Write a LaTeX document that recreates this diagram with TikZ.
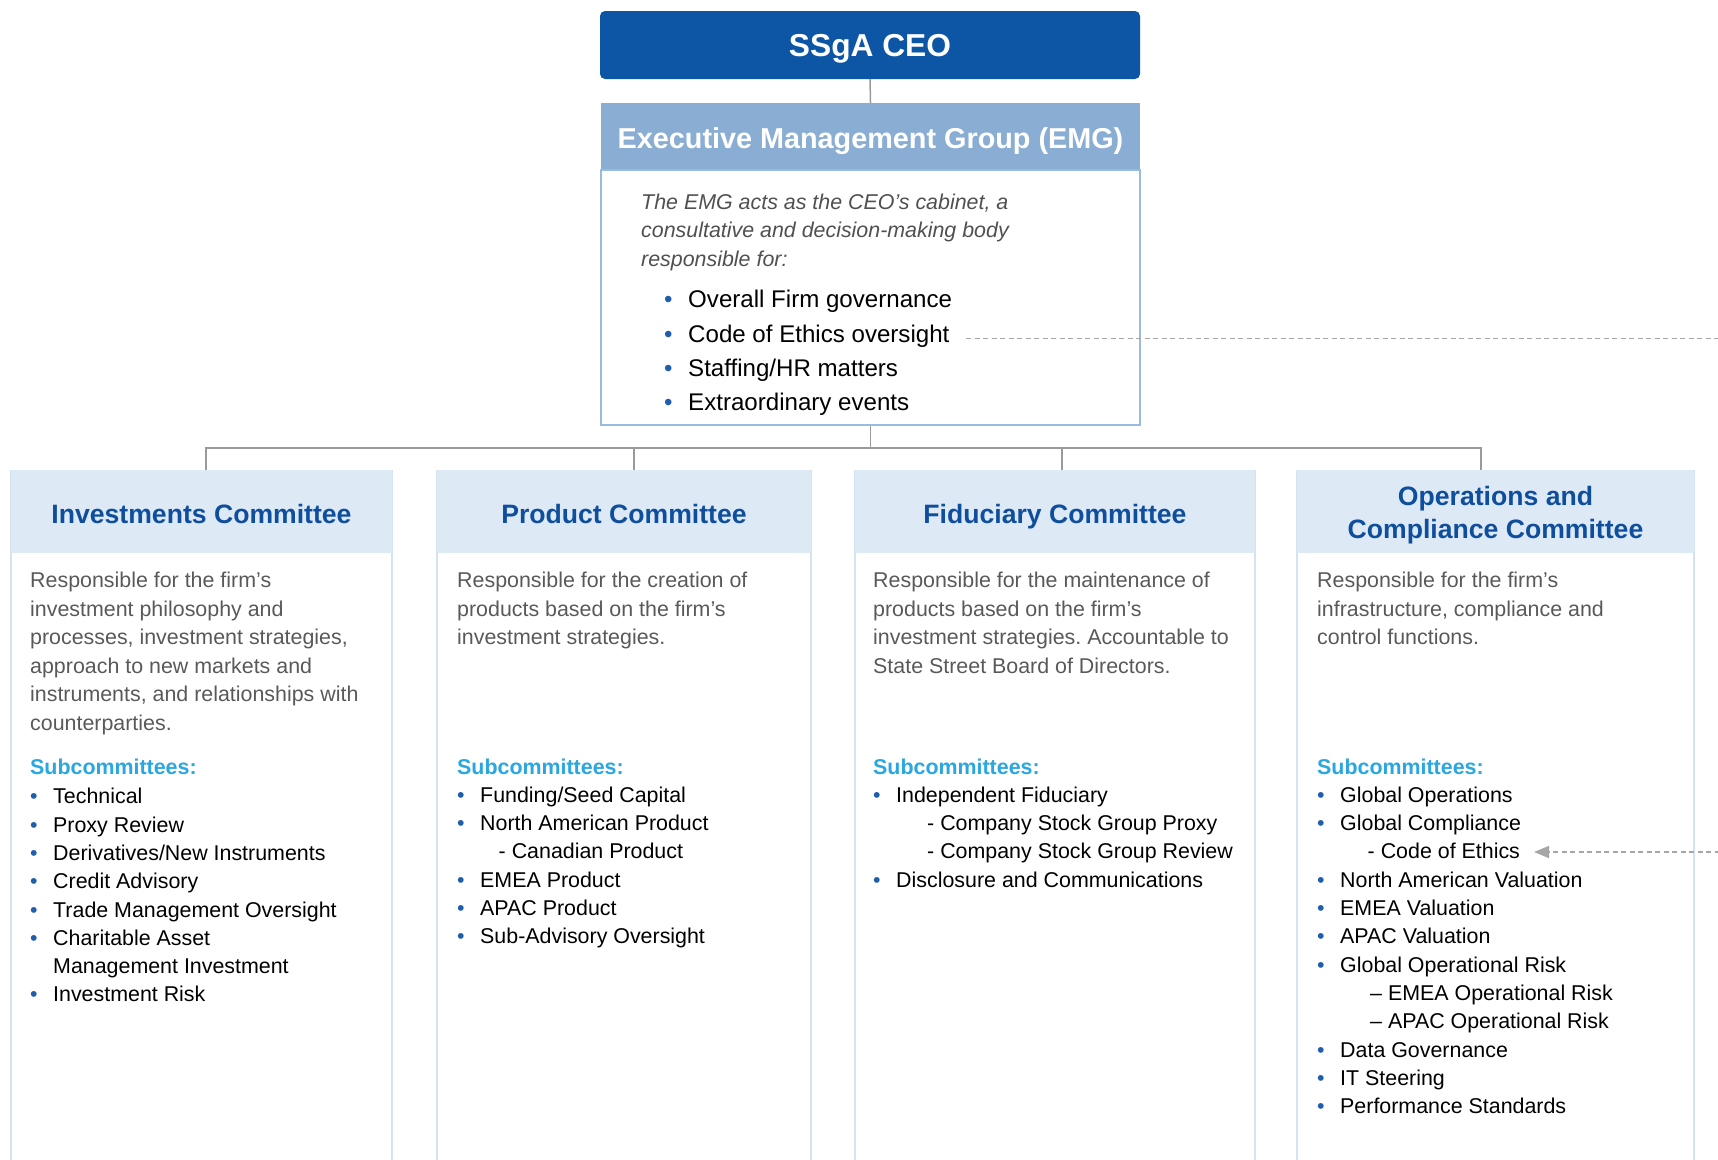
\documentclass[tikz,border=0pt]{standalone}
\usepackage{fontspec}
\setmainfont{Liberation Sans}
\usepackage{xcolor}
\usetikzlibrary{arrows.meta, positioning}
\frenchspacing
\definecolor{ceoblue}{HTML}{0D56A5}
\definecolor{emgblue}{HTML}{8AADD3}
\definecolor{emgline}{HTML}{9ABBE0}
\definecolor{hdfill}{HTML}{DDEAF6}
\definecolor{colline}{HTML}{D5E3F1}
\definecolor{titleblue}{HTML}{0F4E9C}
\definecolor{subcyan}{HTML}{2AA7E0}
\definecolor{bulblue}{HTML}{1E5EAD}
\definecolor{bodygray}{HTML}{595959}
\definecolor{itgray}{HTML}{505050}
\definecolor{linkgray}{HTML}{9A9A9A}
\definecolor{dashgray}{HTML}{A6A6A6}
\newcommand{\bodyfont}{\fontsize{21.4}{28.5}\selectfont}
\newcommand{\listfont}{\fontsize{21.4}{28.3}\selectfont}
\newcommand{\bul}[2][23pt]{\strut\makebox[#1][l]{\textcolor{bulblue}{\textbullet}}#2}
\newcommand{\subbul}[2]{\strut\hspace*{#1}#2}
\newcommand{\subhead}{\strut\textcolor{subcyan}{\textbf{Subcommittees:}}}

\begin{document}
\begin{tikzpicture}[x=1pt, y=-1pt,
    ceo/.style={fill=ceoblue, rounded corners=5pt, minimum width=540pt, minimum height=68pt,
                text=white, text depth=0pt, font=\fontsize{31.7}{36}\selectfont\bfseries},
    emghead/.style={fill=emgblue, minimum width=539pt, minimum height=67pt, text=white,
                    text height=23pt, text depth=0pt, font=\fontsize{28.8}{32}\selectfont\bfseries},
    emgbody/.style={draw=emgline, line width=1.5pt, minimum width=539pt, minimum height=255pt},
    colbox/.style={draw=colline, line width=2pt, minimum height=720pt, anchor=north},
    colhead/.style={fill=hdfill, minimum height=83pt, anchor=north, text=titleblue,
                    align=center, font=\fontsize{26.6}{33}\selectfont\bfseries},
    onehead/.style={colhead, text height=24pt, text depth=0.7pt},
    txt/.style={anchor=north west, inner sep=0pt, align=left},
    desc/.style={txt, text=bodygray, font=\bodyfont},
    subs/.style={txt, font=\listfont},
    link/.style={draw=linkgray, line width=1.5pt},
    ethicslink/.style={draw=dashgray, line width=1.5pt, dash pattern=on 5pt off 3.5pt},
]
\useasboundingbox (0,0) rectangle (1718,1159);

\node[ceo] (ceo) at (870,45) {SSgA CEO};
\node[emghead] (emghead) at (870.5,136.5) {Executive Management Group (EMG)};
\node[emgbody] (emgbody) at (870.5,297.5) {};
\node[txt, text=itgray, font=\bodyfont\itshape] (emgtext) at (641,189)
    {\strut The EMG acts as the CEO’s cabinet, a\\ consultative and decision-making body\\ responsible for:};
\node[txt, font=\fontsize{24.1}{34.3}\selectfont] (emgduties) at (664,283.7)
    {\bul[24pt]{Overall Firm governance}\\ \bul[24pt]{Code of Ethics oversight}\\
     \bul[24pt]{Staffing/HR matters}\\ \bul[24pt]{Extraordinary events}};

\node[colbox, minimum width=381pt] (col1) at (201.5,470) {};
\node[colbox, minimum width=374pt] (col2) at (624,470) {};
\node[colbox, minimum width=400pt] (col3) at (1055,470) {};
\node[colbox, minimum width=397pt] (col4) at (1495.5,470) {};
\node[onehead, minimum width=381pt] (hd1) at (col1.north) {Investments Committee};
\node[onehead, minimum width=374pt] (hd2) at (col2.north) {Product Committee};
\node[onehead, minimum width=400pt] (hd3) at (col3.north) {Fiduciary Committee};
\node[colhead, minimum width=397pt] (hd4) at (col4.north) {\rule{0pt}{26pt}Operations and\\ Compliance Committee};

\node[desc] (desc1) at (30,567.5) {\strut Responsible for the firm’s\\ investment philosophy and\\
    processes, investment strategies,\\ approach to new markets and\\
    instruments, and relationships with\\ counterparties.};
\node[desc] (desc2) at (457,567.5) {\strut Responsible for the creation of\\ products based on the firm’s\\
    investment strategies.};
\node[desc] (desc3) at (873,567.5) {\strut Responsible for the maintenance of\\ products based on the firm’s\\
    investment strategies. Accountable to\\ State Street Board of Directors.};
\node[desc] (desc4) at (1317,567.5) {\strut Responsible for the firm’s\\ infrastructure, compliance and\\
    control functions.};

\node[subs] (subs1) at (30,754) {\subhead\\[1.5pt] \bul{Technical}\\ \bul{Proxy Review}\\
    \bul{Derivatives/New Instruments}\\ \bul{Credit Advisory}\\ \bul{Trade Management Oversight}\\
    \bul{Charitable Asset}\\ \subbul{23pt}{Management Investment}\\ \bul{Investment Risk}};
\node[subs] (subs2) at (457,754) {\subhead\\ \bul{Funding/Seed Capital}\\ \bul{North American Product}\\
    \subbul{41.5pt}{-~Canadian Product}\\ \bul{EMEA Product}\\ \bul{APAC Product}\\
    \bul{Sub-Advisory Oversight}};
\node[subs] (subs3) at (873,754) {\subhead\\ \bul{Independent Fiduciary}\\
    \subbul{54pt}{-~Company Stock Group Proxy}\\ \subbul{54pt}{-~Company Stock Group Review}\\
    \bul{Disclosure and Communications}};
\node[subs] (subs4) at (1317,754) {\subhead\\ \bul{Global Operations}\\ \bul{Global Compliance}\\
    \subbul{50.5pt}{-~Code of Ethics}\\ \bul{North American Valuation}\\ \bul{EMEA Valuation}\\
    \bul{APAC Valuation}\\ \bul{Global Operational Risk}\\ \subbul{53pt}{–~EMEA Operational Risk}\\
    \subbul{53pt}{–~APAC Operational Risk}\\ \bul{Data Governance}\\ \bul{IT Steering}\\
    \bul{Performance Standards}};

\draw[link] (ceo.south) -- (emghead.north);
\draw[link] (emgbody.south) -- ++(0,22) coordinate (bus);
\foreach \h/\dx in {hd1/4.5, hd2/10, hd3/7, hd4/-14.5}
    \draw[link] ([xshift=\dx pt]\h.north) |- (bus);

\coordinate (oversight) at (966,338.5);
\coordinate (ethics) at (1534,852);
\draw[ethicslink, -{Triangle[length=15pt,width=12pt]}] (oversight) -- ++(800,0) |- (ethics);
\end{tikzpicture}
\end{document}
